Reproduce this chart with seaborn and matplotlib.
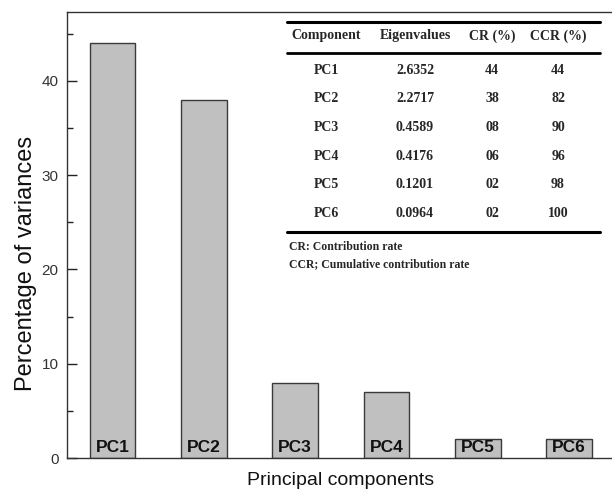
import matplotlib
matplotlib.use("Agg")
import matplotlib.pyplot as plt
import seaborn as sns
import pandas as pd

# Scree data: share of variance carried by each principal component
components = ["PC1", "PC2", "PC3", "PC4", "PC5", "PC6"]
variance_pct = [44, 38, 8, 7, 2, 2]

# Summary table values
table_header = ["Component", "Eigenvalues", "CR (%)", "CCR (%)"]
eigenvalues = ["2.6352", "2.2717", "0.4589", "0.4176", "0.1201", "0.0964"]
contribution = ["44", "38", "08", "06", "02", "02"]
cumulative = ["44", "82", "90", "96", "98", "100"]
table_notes = ["CR: Contribution rate", "CCR; Cumulative contribution rate"]

y_ticks = [0, 10, 20, 30, 40]
y_minor = [5, 15, 25, 35, 45]

sns.set_theme(style="ticks")
plt.rcParams["font.family"] = ["Liberation Sans", "DejaVu Sans"]

W, H = 612, 493
fig = plt.figure(figsize=(W / 100, H / 100), dpi=100)

def fx(x):
    return x / W

def fy(y):
    return 1 - y / H

ax_left, ax_right, ax_top, ax_bottom = 67, 614.6, 12, 458
ax = fig.add_axes([fx(ax_left), fy(ax_bottom), fx(ax_right - ax_left), (ax_bottom - ax_top) / H])

df = pd.DataFrame({"component": components, "variance": variance_pct})
sns.barplot(data=df, x="component", y="variance", color="#c0c0c0", saturation=1,
            edgecolor="#3a3a3a", linewidth=1.0, width=0.5, ax=ax)

ax.set_xlim(-0.5, len(components) - 0.5)
ax.set_ylim(0, 47.3)

# Component names written inside the foot of each bar
for i, name in enumerate(components):
    ax.text(i, 0.35, name, ha="center", va="bottom", fontsize=12.5, fontweight="bold",
            family=["Liberation Sans Narrow", "Liberation Sans", "DejaVu Sans"], color="#111111")

ax.set_yticks(y_ticks)
ax.set_yticks(y_minor, minor=True)
ax.tick_params(axis="y", which="major", direction="in", length=7, width=1, pad=6,
               labelsize=11, colors="#222222", labelcolor="#333333")
ax.tick_params(axis="y", which="minor", direction="in", length=4, width=1, colors="#222222")
ax.tick_params(axis="x", length=0, labelbottom=False)

for side in ["left", "bottom", "top", "right"]:
    ax.spines[side].set_visible(True)
    ax.spines[side].set_color("#333333")
    ax.spines[side].set_linewidth(1.0)

ax.set_xlabel("Principal components", fontsize=14, color="#111111", va="top")
ax.xaxis.set_label_coords(0.5, -(472 - ax_bottom) / (ax_bottom - ax_top))
ax.set_ylabel("Percentage of variances", fontsize=17, color="#111111")
ax.yaxis.set_label_coords((37 - ax_left) / (ax_right - ax_left), 1 - (263 - ax_top) / (ax_bottom - ax_top))

# Summary table drawn over the upper right of the axes
serif = ["Liberation Serif", "DejaVu Serif"]
col_x = [326, 415, 492, 558]
rule_x0, rule_x1 = 287, 600

def rule(y, lw):
    fig.add_artist(plt.Line2D([fx(rule_x0), fx(rule_x1)], [fy(y), fy(y)], color="black", linewidth=lw))

rule(22, 2.2)
rule(53, 2.0)
for x, h in zip(col_x, table_header):
    fig.text(fx(x), fy(36), h, ha="center", va="center", fontsize=10, fontweight="bold", family=serif)

row_y0, row_step = 70, 28.7
for r in range(len(components)):
    y = row_y0 + r * row_step
    for x, val in zip(col_x, [components[r], eigenvalues[r], contribution[r], cumulative[r]]):
        fig.text(fx(x), fy(y), val, ha="center", va="center", fontsize=10, fontweight="bold", family=serif)

rule(232, 2.2)
for k, note in enumerate(table_notes):
    fig.text(fx(289), fy(247 + k * 17), note, ha="left", va="center", fontsize=8.5, fontweight="bold", family=serif)

fig.savefig("out.png", dpi=100)
